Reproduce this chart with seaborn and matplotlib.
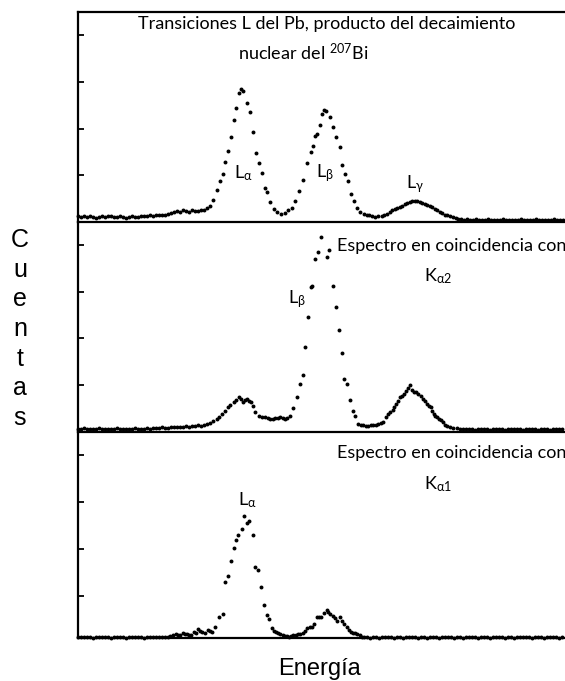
import matplotlib
matplotlib.use("Agg")
import matplotlib.pyplot as plt
import seaborn as sns
import pandas as pd

# ---------------- data (channel, counts in arbitrary units) ----------------
# Top panel: L transitions of Pb from 207Bi decay
top_left_ch = [1, 4, 7, 10, 13, 16, 19, 22, 25, 28, 31, 34, 37, 40, 43, 46, 49, 52, 55, 58,
               61, 64, 67, 70, 73, 76, 79, 82, 85, 88, 91, 94, 97, 100, 103, 106, 109, 112, 115, 118,
               121, 124, 127, 130]
top_left_ct = [0.12, 0.10, 0.13, 0.10, 0.12, 0.11, 0.09, 0.11, 0.12, 0.10,
               0.13, 0.12, 0.11, 0.10, 0.12, 0.11, 0.09, 0.10, 0.12, 0.11,
               0.10, 0.12, 0.13, 0.12, 0.14, 0.13, 0.15, 0.14, 0.16, 0.15,
               0.17, 0.19, 0.21, 0.23, 0.22, 0.25, 0.23, 0.22, 0.25, 0.24,
               0.23, 0.26, 0.25, 0.29]
top_peak_ch = [133, 136, 139.5, 143, 145.5, 148, 151, 154, 156.5, 159,
               162, 164, 166, 170, 173, 176, 179, 182, 185, 187.5,
               190, 193, 196.5, 200, 204, 208, 211, 215, 218, 222,
               225.5, 229.5, 233.5, 235.5, 238, 240, 242.5, 244.5, 247, 249,
               252.5, 255.5, 259, 262.5, 264.5, 268, 270.5, 273.5, 276.5, 279.5,
               283, 286.5, 289.5, 292, 295, 298, 301, 304.5, 307, 310,
               313, 315, 318, 320, 323, 325, 328, 330, 333, 335,
               338, 340, 343, 345, 348, 350, 353, 355, 358, 360,
               363, 365, 368, 370, 373, 376, 379, 381]
top_peak_ct = [0.34, 0.47, 0.69, 0.87, 1.02, 1.29, 1.52, 1.83, 2.18, 2.45,
               2.77, 2.84, 2.81, 2.54, 2.36, 1.92, 1.47, 1.27, 1.04, 0.73,
               0.64, 0.42, 0.27, 0.21, 0.18, 0.19, 0.26, 0.29, 0.45, 0.66,
               0.91, 1.27, 1.51, 1.63, 1.85, 1.88, 2.07, 2.32, 2.41, 2.37,
               2.25, 2.03, 1.82, 1.60, 1.22, 1.02, 0.87, 0.60, 0.44, 0.30,
               0.22, 0.18, 0.16, 0.14, 0.12, 0.11, 0.12, 0.13, 0.15, 0.18,
               0.22, 0.26, 0.27, 0.29, 0.32, 0.35, 0.38, 0.40, 0.43, 0.44,
               0.45, 0.45, 0.43, 0.41, 0.39, 0.37, 0.34, 0.32, 0.28, 0.25,
               0.21, 0.19, 0.16, 0.15, 0.12, 0.10, 0.08, 0.07]
top_right_ch = [384, 387, 390, 393, 396, 399, 402, 405, 408, 411, 414, 417, 420, 423, 426, 429,
                432, 435, 438, 441, 444, 447, 450, 453, 456, 459, 462, 465, 468, 471, 474, 477,
                480, 483, 486]
top_right_ct = [0.06, 0.05, 0.06, 0.05, 0.05, 0.06, 0.05, 0.04, 0.05, 0.06,
                0.05, 0.05, 0.04, 0.05, 0.06, 0.05, 0.05, 0.04, 0.05, 0.05,
                0.06, 0.05, 0.04, 0.05, 0.05, 0.06, 0.05, 0.05, 0.04, 0.05,
                0.05, 0.06, 0.05, 0.05, 0.04]

# Middle panel: coincidence with K-alpha2
mid_left_ch = [1, 4, 7, 10, 13, 16, 19, 22, 25, 28, 31, 34, 37, 40, 43, 46, 49, 52, 55, 58,
               61, 64, 67, 70, 73, 76, 79, 82, 85, 88, 91, 94, 97, 100, 103, 106, 109, 112, 115, 118,
               121, 124, 127, 130, 133, 136]
mid_left_ct = [0.06, 0.05, 0.07, 0.05, 0.06, 0.05, 0.06, 0.07, 0.05, 0.06,
               0.05, 0.06, 0.05, 0.07, 0.06, 0.05, 0.06, 0.05, 0.06, 0.07,
               0.06, 0.05, 0.06, 0.07, 0.06, 0.07, 0.08, 0.07, 0.09, 0.08,
               0.07, 0.09, 0.10, 0.09, 0.10, 0.09, 0.11, 0.10, 0.12, 0.11,
               0.13, 0.12, 0.14, 0.16, 0.18, 0.22]
mid_peak_ch = [139.5, 142, 144.5, 148, 151, 153, 156.5, 159, 161.5, 163.5,
               165.5, 168, 170, 172, 173.5, 176, 178, 182, 185, 188,
               191, 193, 196, 198, 201, 203, 206, 208, 210, 212.5,
               215.5, 219.5, 222.5, 225.5, 228, 230.5, 233.5, 235, 238, 240.5,
               243.5, 249.5, 252, 255.5, 259, 261.5, 264.5, 267, 270, 273,
               275.5, 278, 281, 284, 286, 289, 291, 294, 296, 299,
               301, 304, 306, 309, 311, 313, 315.5, 317, 319, 321,
               323, 325, 327, 329, 331, 333, 335, 337, 339, 341,
               344, 346, 348, 350, 352, 353.5, 355, 356.5, 358, 360,
               362, 364, 366, 368, 370, 373, 376, 380]
mid_peak_ct = [0.27, 0.32, 0.38, 0.45, 0.53, 0.57, 0.63, 0.68, 0.74, 0.69,
               0.63, 0.67, 0.70, 0.66, 0.63, 0.54, 0.42, 0.34, 0.32, 0.31,
               0.28, 0.26, 0.27, 0.29, 0.29, 0.31, 0.28, 0.26, 0.29, 0.34,
               0.50, 0.74, 1.03, 1.22, 1.81, 2.46, 3.10, 3.12, 3.71, 3.86,
               4.18, 3.75, 3.89, 3.12, 2.67, 2.17, 1.69, 1.12, 1.03, 0.68,
               0.43, 0.34, 0.17, 0.14, 0.13, 0.12, 0.12, 0.13, 0.14, 0.15,
               0.17, 0.18, 0.20, 0.31, 0.38, 0.42, 0.47, 0.52, 0.59, 0.66,
               0.74, 0.77, 0.81, 0.86, 0.93, 0.99, 0.90, 0.85, 0.85, 0.81,
               0.76, 0.70, 0.65, 0.59, 0.55, 0.52, 0.45, 0.38, 0.34, 0.31,
               0.27, 0.25, 0.20, 0.14, 0.12, 0.09, 0.08, 0.07]
mid_right_ch = [383, 386, 389, 392, 395, 398, 401, 404, 407, 410, 413, 416, 419, 422, 425, 428,
                431, 434, 437, 440, 443, 446, 449, 452, 455, 458, 461, 464, 467, 470, 473, 476,
                479, 482, 485]
mid_right_ct = [0.06, 0.05, 0.06, 0.05, 0.05, 0.04, 0.05, 0.06, 0.05, 0.05,
                0.04, 0.05, 0.05, 0.06, 0.05, 0.04, 0.05, 0.05, 0.06, 0.05,
                0.05, 0.04, 0.05, 0.06, 0.05, 0.05, 0.04, 0.05, 0.05, 0.05,
                0.04, 0.05, 0.06, 0.05, 0.05]

# Bottom panel: coincidence with K-alpha1
bot_left_ch = [1, 4, 7, 10, 13, 16, 19, 22, 25, 28, 31, 34, 37, 40, 43, 46, 49, 52, 55, 58,
               61, 64, 67, 70, 73, 76, 79, 82, 85, 88, 91]
bot_left_ct = [0.02, 0.02, 0.03, 0.02, 0.02, 0.01, 0.02, 0.03, 0.02, 0.02,
               0.02, 0.01, 0.02, 0.03, 0.02, 0.02, 0.01, 0.02, 0.02, 0.03,
               0.02, 0.02, 0.01, 0.02, 0.02, 0.03, 0.02, 0.02, 0.03, 0.02,
               0.03]
bot_peak_ch = [93, 96, 99, 101, 103, 106, 108, 110, 112, 114,
               117, 119, 121, 123, 125, 128, 131, 133, 135, 138,
               142, 145.5, 148, 150.5, 153.5, 156.5, 159, 161, 164.5, 167,
               169.5, 172, 175.5, 178, 181, 183.5, 186.5, 189.5, 192, 195,
               197, 199, 201, 203, 206, 208, 210, 212, 214, 216,
               219, 221, 223, 226, 228, 230, 233, 235, 237, 239.5,
               242, 244, 247, 249.5, 251, 253, 256, 258, 260, 263,
               265, 267, 270, 272, 273.5, 276, 278, 280, 282.5, 285,
               287]
bot_peak_ct = [0.04, 0.06, 0.08, 0.07, 0.06, 0.10, 0.09, 0.08, 0.07, 0.06,
               0.12, 0.11, 0.19, 0.15, 0.13, 0.10, 0.17, 0.15, 0.13, 0.24,
               0.44, 0.51, 1.21, 1.32, 1.66, 1.94, 2.11, 2.22, 2.34, 2.61,
               2.47, 2.50, 2.22, 1.53, 1.46, 1.10, 0.71, 0.49, 0.41, 0.21,
               0.16, 0.13, 0.11, 0.08, 0.06, 0.04, 0.05, 0.03, 0.05, 0.06,
               0.07, 0.08, 0.09, 0.10, 0.15, 0.21, 0.23, 0.24, 0.31, 0.44,
               0.45, 0.46, 0.53, 0.60, 0.55, 0.51, 0.48, 0.42, 0.37, 0.44,
               0.36, 0.31, 0.24, 0.17, 0.13, 0.11, 0.10, 0.08, 0.06, 0.03,
               0.02]
bot_right_ch = [290, 293, 296, 299, 302, 305, 308, 311, 314, 317, 320,
                323, 326, 329, 332, 335, 338, 341, 344, 347, 350, 353,
                356, 359, 362, 365, 368, 371, 374, 377, 380, 383, 386,
                389, 392, 395, 398, 401, 404, 407, 410, 413, 416, 419,
                422, 425, 428, 431, 434, 437, 440, 443, 446, 449, 452,
                455, 458, 461, 464, 467, 470, 473, 476, 479, 482, 485]
bot_right_ct = [0.02, 0.01, 0.02, 0.02, 0.01, 0.02, 0.02, 0.03, 0.02, 0.01, 0.02,
                0.02, 0.01, 0.02, 0.02, 0.03, 0.02, 0.01, 0.02, 0.02, 0.01, 0.02,
                0.02, 0.02, 0.01, 0.02, 0.03, 0.02, 0.02, 0.01, 0.02, 0.02, 0.01,
                0.02, 0.02, 0.03, 0.02, 0.01, 0.02, 0.02, 0.02, 0.01, 0.02, 0.02,
                0.03, 0.02, 0.01, 0.02, 0.02, 0.01, 0.02, 0.02, 0.03, 0.02, 0.02,
                0.01, 0.02, 0.02, 0.02, 0.01, 0.02, 0.03, 0.02, 0.02, 0.01, 0.02]

# ---------------- style ----------------
sns.set_style("ticks")
plt.rcParams['font.family'] = ['Lato', 'DejaVu Sans']
plt.rcParams['mathtext.fontset'] = 'custom'
plt.rcParams['mathtext.rm'] = 'Lato'
plt.rcParams['mathtext.it'] = 'Lato:italic'
plt.rcParams['mathtext.bf'] = 'Lato:bold'
plt.rcParams['text.color'] = 'black'

W, H = 565, 681
fig = plt.figure(figsize=(W / 100, H / 100), dpi=100)


def frac_axes(top_px, bottom_px, left_px=78):
    return fig.add_axes([left_px / W, 1 - bottom_px / H, 1 - left_px / W, (bottom_px - top_px) / H])


panels = [
    dict(top=12, bottom=222, ch=top_left_ch + top_peak_ch + top_right_ch,
         ct=top_left_ct + top_peak_ct + top_right_ct, ylim=(0, 4.5), ticks=[1, 2, 3, 4]),
    dict(top=222, bottom=431.5, ch=mid_left_ch + mid_peak_ch + mid_right_ch,
         ct=mid_left_ct + mid_peak_ct + mid_right_ct, ylim=(0, 4.5), ticks=[1, 2, 3, 4]),
    dict(top=431.5, bottom=638, ch=bot_left_ch + bot_peak_ch + bot_right_ch,
         ct=bot_left_ct + bot_peak_ct + bot_right_ct, ylim=(0, 4.43), ticks=[0.91, 1.91, 2.91, 3.92]),
]

axes = []
for i, p in enumerate(panels):
    ax = frac_axes(p['top'], p['bottom'])
    df = pd.DataFrame({'Energia': p['ch'], 'Cuentas': p['ct']})
    sns.scatterplot(data=df, x='Energia', y='Cuentas', ax=ax, color='black', s=8,
                    linewidth=0, marker='o', legend=False, clip_on=False, zorder=3)
    ax.set_xlim(1, 488)
    ax.set_ylim(*p['ylim'])
    ax.set_xticks([])
    ax.set_yticks(p['ticks'])
    ax.set_yticklabels([])
    ax.set_xlabel('')
    ax.set_ylabel('')
    ax.tick_params(axis='y', direction='in', length=4, width=1.3, color='black')
    ax.patch.set_alpha(0)
    for side in ['left', 'bottom', 'top']:
        ax.spines[side].set_linewidth(1.6)
        ax.spines[side].set_color('black')
    ax.spines['right'].set_visible(False)
    if i > 0:
        ax.spines['top'].set_visible(False)
    axes.append(ax)

ax_top, ax_mid, ax_bot = axes
fs = 13
# top panel annotations
ax_top.text(250, 4.24, "Transiciones L del Pb, producto del decaimiento", ha='center', va='center',
            fontsize=fs)
ax_top.text(226, 3.63, r"nuclear del $^{\mathregular{207}}$Bi", ha='center', va='center', fontsize=fs)
ax_top.text(166, 1.05, r"L$_{\mathregular{α}}$", ha='center', va='center', fontsize=fs)
ax_top.text(248, 1.05, r"L$_{\mathregular{β}}$", ha='center', va='center', fontsize=fs)
ax_top.text(338, 0.80, r"L$_{\mathregular{γ}}$", ha='center', va='center', fontsize=fs)
# middle panel
ax_mid.text(260, 3.98, "Espectro en coincidencia con", ha='left', va='center', fontsize=fs, clip_on=False)
ax_mid.text(361, 3.34, r"K$_{\mathregular{α2}}$", ha='center', va='center', fontsize=fs)
ax_mid.text(220, 2.84, r"L$_{\mathregular{β}}$", ha='center', va='center', fontsize=fs)
# bottom panel
ax_bot.text(260, 3.97, "Espectro en coincidencia con", ha='left', va='center', fontsize=fs, clip_on=False)
ax_bot.text(361, 3.29, r"K$_{\mathregular{α1}}$", ha='center', va='center', fontsize=fs)
ax_bot.text(170, 2.95, r"L$_{\mathregular{α}}$", ha='center', va='center', fontsize=fs)

# axis labels
fig.text(20 / W, 1 - 329 / H, "C\nu\ne\nn\nt\na\ns", ha='center', va='center', fontsize=18,
         family=['Liberation Sans', 'DejaVu Sans'], linespacing=1.3, color='black')
fig.text(319 / W, 1 - 675 / H, "Energía", ha='center', va='baseline', fontsize=17,
         family=['Liberation Sans', 'DejaVu Sans'], color='black')

fig.savefig("out.png", dpi=100)
